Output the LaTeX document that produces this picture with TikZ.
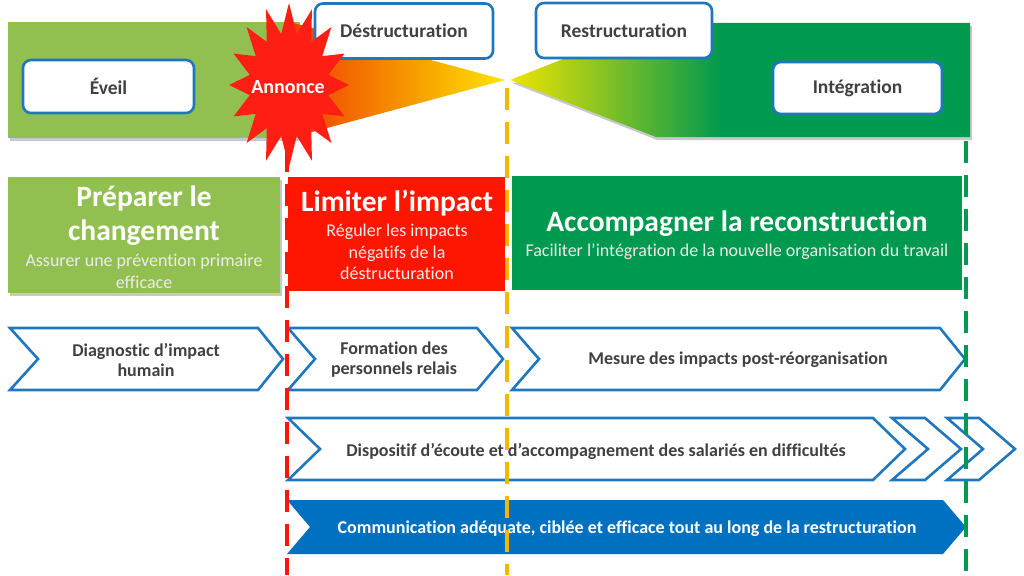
\documentclass[tikz,border=0pt]{standalone}
\usepackage{fontspec}
\setmainfont{Carlito}[Ligatures=NoCommon]
\definecolor{lgreen}{RGB}{146,192,80}
\definecolor{dgreen}{RGB}{0,153,80}
\definecolor{myred}{RGB}{255,22,0}
\definecolor{starred}{RGB}{255,30,20}
\definecolor{myblue}{RGB}{31,119,192}
\definecolor{fblue}{RGB}{0,112,192}
\definecolor{myorange}{RGB}{245,182,0}
\definecolor{txtgray}{RGB}{64,64,64}
\definecolor{wred}{RGB}{238,60,0}
\definecolor{worange}{RGB}{255,160,0}
\definecolor{wyellow}{RGB}{255,228,0}
\definecolor{gyellow}{RGB}{240,228,0}
\definecolor{gmid}{RGB}{120,190,70}
\definecolor{shadowgray}{RGB}{200,200,200}
\begin{document}
\begin{tikzpicture}[x=1pt,y=-1pt,
  phasebox/.style={draw=myblue, line width=2.6pt, fill=white, rounded corners=8pt,
    font=\bfseries\fontsize{19.5}{22}\selectfont, text=txtgray},
  chev/.style={draw=myblue, line width=2.6pt, fill=white, line join=miter},
  chevtxt/.style={font=\bfseries\fontsize{18}{20}\selectfont, text=txtgray, align=center},
  bigtitle/.style={font=\bfseries\fontsize{29.5}{34}\selectfont, text=white, align=center},
  subtitle/.style={font=\fontsize{18}{21.5}\selectfont, text=white!92!black, align=center},
  vdash/.style={line width=4pt, dash pattern=on 22pt off 12pt}
]
\useasboundingbox (0,0) rectangle (1024,575);
% top band
\fill[shadowgray] (10,25) rectangle (302,141);
\fill[lgreen] (8,22) rectangle (300,138);
\shade[left color=wred, middle color=worange, right color=wyellow]
  (290,22) -- (505,80) -- (290,138) -- cycle;
\fill[shadowgray] (512,83) -- (657,140) -- (972,140) -- (972,26) -- cycle;
\begin{scope}
  \clip (510,80) -- (654,23) -- (970,23) -- (970,137) -- (656,137) -- cycle;
  \shade[left color=gyellow, middle color=gmid, right color=dgreen] (509,20) rectangle (722,140);
  \fill[dgreen] (721,20) rectangle (972,140);
\end{scope}
% middle blocks
\fill[shadowgray] (10,180) rectangle (282,296);
\node[fill=lgreen, minimum width=272pt, minimum height=116pt, inner sep=0pt] (prep) at (144,235) {};
\node[fill=myred, minimum width=217pt, minimum height=114pt, inner sep=0pt] (limit) at (396.5,234) {};
\node[fill=dgreen, minimum width=450pt, minimum height=114pt, inner sep=0pt] (accomp) at (737,233) {};
\node[bigtitle] (prept) at (144,216) {Préparer le\\changement};
\node[subtitle, font=\fontsize{18}{22}\selectfont] (preps) at (144,271) {Assurer une prévention primaire\\efficace};
\node[bigtitle] (limitt) at (397,203) {Limiter l’impact};
\node[subtitle] (limits) at (397,252) {Réguler les impacts\\négatifs de la\\déstructuration};
\node[bigtitle] (accompt) at (737,224) {Accompagner la reconstruction};
\node[subtitle] (accomps) at (737,252) {Faciliter l’intégration de la nouvelle organisation du travail};
% chevrons
\draw[chev] (10,328) -- (258,328) -- (283,359) -- (258,390) -- (10,390) -- (38,359) -- cycle;
\draw[chev] (288,328) -- (477,328) -- (503,359) -- (477,390) -- (288,390) -- (315,359) -- cycle;
\draw[chev] (512,328) -- (940,328) -- (965,359) -- (940,390) -- (512,390) -- (539,359) -- cycle;
\draw[chev] (288,418) -- (873,418) -- (905,449) -- (873,480) -- (288,480) -- (320,449) -- cycle;
\draw[chev] (892,418) -- (925,418) -- (961,449) -- (925,480) -- (892,480) -- (928,449) -- cycle;
\draw[chev] (947,418) -- (979,418) -- (1015,449) -- (979,480) -- (947,480) -- (983,449) -- cycle;
\fill[fblue] (287,500) -- (943,500) -- (966,527) -- (943,554) -- (287,554) -- (310,527) -- cycle;
\node[chevtxt] (diag) at (146,360) {Diagnostic d’impact\\humain};
\node[chevtxt] (form) at (394,360) {Formation des\\personnels relais};
\node[chevtxt] (mesure) at (738,360) {Mesure des impacts post-réorganisation};
\node[chevtxt] (disp) at (596,451) {Dispositif d’écoute et d’accompagnement des salariés en difficultés};
\node[chevtxt, text=white] (comm) at (627,529) {Communication adéquate, ciblée et efficace tout au long de la restructuration};
% dashed lines
\coordinate (rtop) at (287,150);
\coordinate (rbot) at (287,575);
\coordinate (otop) at (507,88);
\coordinate (obot) at (507,575);
\coordinate (gtop) at (966,141);
\coordinate (gbot) at (966,575);
\draw[vdash, myred] (rtop) -- (rbot);
\draw[vdash, myorange] (otop) -- (obot);
\draw[vdash, dgreen] (gtop) -- (gbot);
% phase boxes
\node[phasebox, minimum width=171pt, minimum height=53pt] (eveil) at (108.5,86.5) {Éveil};
\node[phasebox, minimum width=178pt, minimum height=55pt] (destr) at (404,31) {Déstructuration};
\node[phasebox, minimum width=176pt, minimum height=55pt] (restr) at (624,30.5) {Restructuration};
\node[phasebox, minimum width=169pt, minimum height=52pt] (integ) at (857.5,88) {Intégration};
% star
\fill[starred, shift={(289,85)}] (90:60 and 82)
  \foreach \i in {1,...,31}{ -- ({90+\i*11.25}:{ifthenelse(isodd(\i),40,60)} and {ifthenelse(isodd(\i),52,82)}) } -- cycle;
\node[font=\bfseries\fontsize{20}{22}\selectfont, text=white] (annonce) at (288,87) {Annonce};
\end{tikzpicture}
\end{document}
